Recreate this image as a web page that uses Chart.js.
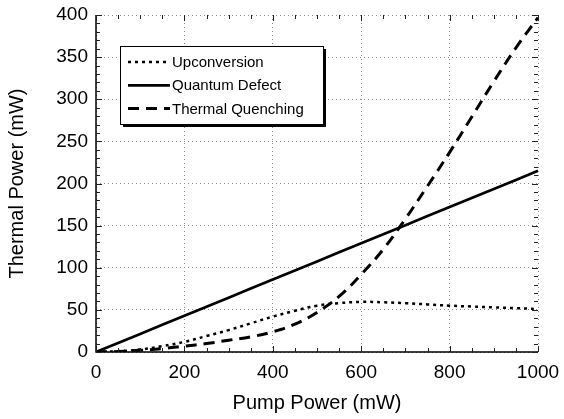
<!DOCTYPE html>
<html>
<head>
<meta charset="utf-8">
<script src="https://cdn.jsdelivr.net/npm/chart.js@4"></script>
<style>
  html, body { margin: 0; padding: 0; background: #fff; }
  #wrap { width: 564px; height: 419px; }
</style>
</head>
<body>
<div id="wrap"><canvas id="chart" width="564" height="419"></canvas></div>
<script>
// pump power (mW) sample points
const pumpPower = [0, 50, 100, 150, 200, 250, 300, 350, 400, 450, 500, 550, 600, 650, 700, 750, 800, 850, 900, 950, 1000];

// thermal power (mW)
const upconversion = [0, 1, 3, 7, 12, 19, 26, 34, 42, 49, 55, 58, 59.5, 59, 58, 56.5, 55, 54, 53, 52, 51];
const quantumDefect = [0, 10.8, 21.5, 32.3, 43, 53.8, 64.5, 75.3, 86, 96.8, 107.5, 118.3, 129, 139.8, 150.5, 161.3, 172, 182.8, 193.5, 204.3, 215];
const thermalQuenching = [0, 0.5, 2, 4, 7, 10, 14, 18, 24, 33, 47, 66, 92, 122, 158, 197, 237, 279, 321, 361, 397];

const seriesNames = ['Upconversion', 'Quantum Defect', 'Thermal Quenching'];

const xTicks = [0, 200, 400, 600, 800, 1000];
const yTicks = [0, 50, 100, 150, 200, 250, 300, 350, 400];

const font = "'Liberation Sans', Arial, sans-serif";

function toPoints(ys) {
  return pumpPower.map((x, i) => ({ x: x, y: ys[i] }));
}

// solid left/bottom axes plus small inward ticks on all four sides
const axisFrame = {
  id: 'axisFrame',
  afterDraw(chart) {
    const ctx = chart.ctx;
    const a = chart.chartArea;
    const xs = chart.scales.x, ys = chart.scales.y;
    ctx.save();
    ctx.strokeStyle = '#000';
    ctx.lineWidth = 1.5;
    ctx.beginPath();
    ctx.moveTo(a.left, a.top);
    ctx.lineTo(a.left, a.bottom);
    ctx.lineTo(a.right, a.bottom);
    ctx.stroke();

    ctx.strokeStyle = '#222';
    ctx.lineWidth = 1;
    ctx.beginPath();
    for (let v = 0; v <= 1000; v += 50) {
      const px = Math.round(xs.getPixelForValue(v)) + 0.5;
      const len = v % 200 === 0 ? 6 : 4;
      ctx.moveTo(px, a.bottom); ctx.lineTo(px, a.bottom - len);
      ctx.moveTo(px, a.top); ctx.lineTo(px, a.top + len);
    }
    for (let v = 0; v <= 400; v += 10) {
      const py = Math.round(ys.getPixelForValue(v)) + 0.5;
      const len = v % 50 === 0 ? 6 : 4;
      ctx.moveTo(a.left, py); ctx.lineTo(a.left + len, py);
      ctx.moveTo(a.right, py); ctx.lineTo(a.right - len, py);
    }
    ctx.stroke();
    ctx.restore();
  }
};

// boxed legend with drop shadow, like the original figure
const boxLegend = {
  id: 'boxLegend',
  afterDraw(chart) {
    const ctx = chart.ctx;
    const bx = 120, by = 46, bw = 203, bh = 78;
    ctx.save();
    ctx.fillStyle = '#000';
    ctx.fillRect(bx + 3, by + 3, bw, bh);
    ctx.fillStyle = '#fff';
    ctx.fillRect(bx, by, bw, bh);
    ctx.strokeStyle = '#000';
    ctx.lineWidth = 1;
    ctx.strokeRect(bx + 0.5, by + 0.5, bw, bh);
    ctx.font = '15px ' + font;
    ctx.textBaseline = 'middle';
    chart.data.datasets.forEach((ds, i) => {
      const y = 62 + i * 23.3;
      ctx.strokeStyle = '#000';
      ctx.lineWidth = ds.borderWidth;
      ctx.setLineDash(ds.borderDash || []);
      ctx.beginPath();
      ctx.moveTo(128, y);
      ctx.lineTo(170, y);
      ctx.stroke();
      ctx.setLineDash([]);
      ctx.fillStyle = '#000';
      ctx.fillText(ds.label, 172, y + 1);
    });
    ctx.restore();
  }
};

const config = {
  type: 'line',
  data: {
    datasets: [
      {
        label: seriesNames[0],
        data: toPoints(upconversion),
        borderColor: '#000',
        borderWidth: 2.5,
        borderDash: [3, 4],
        pointRadius: 0,
        tension: 0.4,
      },
      {
        label: seriesNames[1],
        data: toPoints(quantumDefect),
        borderColor: '#000',
        borderWidth: 2.7,
        pointRadius: 0,
      },
      {
        label: seriesNames[2],
        data: toPoints(thermalQuenching),
        borderColor: '#000',
        borderWidth: 3,
        borderDash: [11, 7],
        pointRadius: 0,
        tension: 0.4,
      },
    ],
  },
  options: {
    responsive: false,
    animation: false,
    layout: { padding: { left: 0, right: 26, top: 15, bottom: 0 } },
    plugins: {
      legend: { display: false },
      tooltip: { enabled: false },
    },
    scales: {
      x: {
        type: 'linear',
        min: 0,
        max: 1000,
        afterBuildTicks: (s) => { s.ticks = xTicks.map(v => ({ value: v })); },
        afterFit: (s) => { s.height = 67; s.paddingLeft = 0; s.paddingRight = 0; },
        ticks: {
          color: '#000',
          font: { family: font, size: 19 },
          padding: 9,
          maxRotation: 0,
          callback: (v) => String(v),
        },
        grid: { color: '#8a8a8a', lineWidth: 1, drawTicks: false },
        border: { display: false, dash: [1, 3] },
        title: {
          display: true,
          text: 'Pump Power (mW)',
          color: '#000',
          font: { family: font, size: 20 },
          padding: { top: 0, bottom: 4 },
        },
      },
      y: {
        type: 'linear',
        min: 0,
        max: 400,
        afterBuildTicks: (s) => { s.ticks = yTicks.map(v => ({ value: v })); },
        afterFit: (s) => { s.width = 96; s.paddingTop = 0; s.paddingBottom = 0; },
        ticks: {
          color: '#000',
          font: { family: font, size: 19 },
          padding: 8,
          callback: (v) => String(v),
        },
        grid: { color: '#8a8a8a', lineWidth: 1, drawTicks: false },
        border: { display: false, dash: [1, 3] },
        title: {
          display: true,
          text: 'Thermal Power (mW)',
          color: '#000',
          font: { family: font, size: 20 },
          padding: { top: 5, bottom: 0 },
        },
      },
    },
  },
  plugins: [axisFrame, boxLegend],
};

new Chart(document.getElementById('chart').getContext('2d'), config);
</script>
</body>
</html>
